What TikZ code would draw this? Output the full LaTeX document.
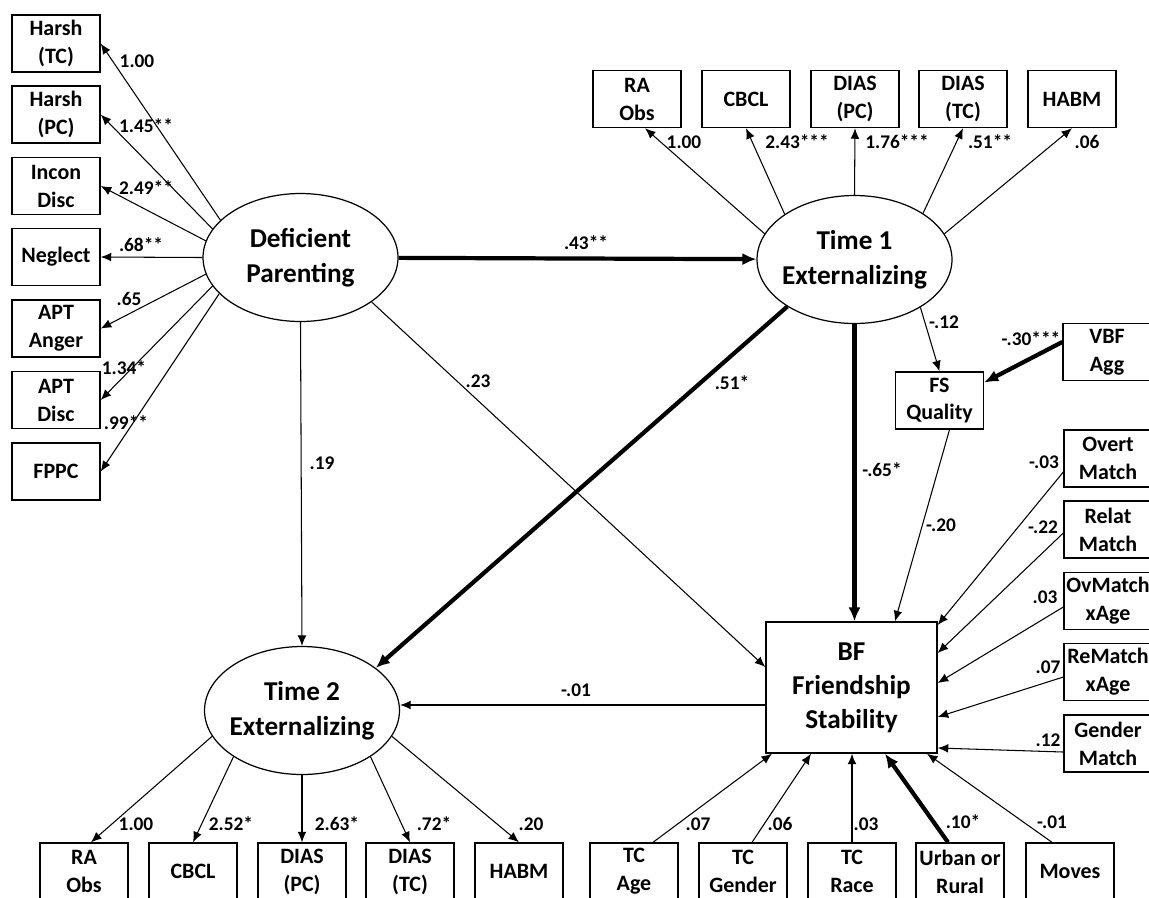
\documentclass[tikz,border=0pt]{standalone}
\usepackage{fontspec}
\setmainfont{Carlito}
\usetikzlibrary{shapes,arrows.meta,calc}

\begin{document}
\begin{tikzpicture}[x=0.02cm, y=-0.02cm,
    obs/.style={draw, line width=0.8pt, minimum width=1.76cm, minimum height=1.14cm,
      inner sep=1pt, align=center, font=\bfseries\fontsize{12.5}{15.9}\selectfont},
    lat/.style={draw, ellipse, line width=0.7pt, minimum width=3.9cm, minimum height=2.56cm,
      inner xsep=-3pt, inner ysep=0pt, align=center, font=\bfseries\fontsize{15.5}{19.8}\selectfont},
    coef/.style={inner sep=0pt, font=\bfseries\fontsize{11}{13}\selectfont},
    load/.style={-{Latex[length=6pt,width=5pt]}, line width=0.6pt},
    sig/.style={-{Latex[length=8pt,width=7pt]}, line width=2.4pt}]
      \useasboundingbox (0,0) rectangle (1149,897);

      \node[lat] (DP) at (300.5,257.5) {Deficient\\Parenting};
      \node[lat] (T1) at (854.5,259.5) {Time 1\\Externalizing};
      \node[lat] (T2) at (302,710.5) {Time 2\\Externalizing};
      \node[obs, minimum width=3.42cm, minimum height=2.62cm,
        font=\bfseries\fontsize{15.5}{19.3}\selectfont] (BF) at (851.5,687.5) {BF\\Friendship\\Stability};

      \node[obs] (HTC) at (56,43.5) {Harsh\\(TC)};
      \node[obs] (HPC) at (56,114.5) {Harsh\\(PC)};
      \node[obs] (ID) at (56,186) {Incon\\Disc};
      \node[obs] (NEG) at (56,257) {Neglect};
      \node[obs] (APA) at (56,328.5) {APT\\Anger};
      \node[obs] (APD) at (56,400) {APT\\Disc};
      \node[obs] (FPPC) at (56,471.5) {FPPC};

      \node[obs] (RA1) at (637,99) {RA\\Obs};
      \node[obs] (CB1) at (746,99) {CBCL};
      \node[obs] (DPC1) at (855,99) {DIAS\\(PC)};
      \node[obs] (DTC1) at (963,99) {DIAS\\(TC)};
      \node[obs] (HB1) at (1072,99) {HABM};

      \node[obs] (RA2) at (84,871.5) {RA\\Obs};
      \node[obs] (CB2) at (193,871.5) {CBCL};
      \node[obs] (DPC2) at (302,871.5) {DIAS\\(PC)};
      \node[obs] (DTC2) at (410,871.5) {DIAS\\(TC)};
      \node[obs] (HB2) at (519,871.5) {HABM};

      \node[obs] (FSQ) at (939.5,400.5) {FS\\Quality};
      \node[obs] (VBF) at (1107,352) {VBF\\Agg};

      \node[obs] (OM) at (1108,458.5) {Overt\\Match};
      \node[obs] (RM) at (1108,529.5) {Relat\\Match};
      \node[obs] (OMA) at (1108,601) {OvMatch\\xAge};
      \node[obs] (RMA) at (1108,672) {ReMatch\\xAge};
      \node[obs] (GM) at (1108,743.5) {Gender\\Match};

      \node[obs] (TCA) at (634,871.5) {TC\\Age};
      \node[obs] (TCG) at (743,871.5) {TC\\Gender};
      \node[obs] (TCR) at (852,871.5) {TC\\Race};
      \node[obs] (UR) at (960,871.5) {Urban or\\Rural};
      \node[obs] (MOV) at (1070,871.5) {Moves};

      \draw [load] (DP.155) to (HTC.east);
      \draw [load] (DP.162) to (HPC.east);
      \draw [load] (DP.170) to (ID.east);
      \draw [load] (DP.180) to (NEG.east);
      \draw [load] (DP.190) to (APA.east);
      \draw [load] (DP.198) to (APD.east);
      \draw [load] (DP.204) to (FPPC.east);

      \draw [sig]  (DP) to (T1);
      \draw [load] (DP.south) to (T2.north);
      \draw [load] (DP.-32) to ([yshift=0.41cm]BF.west);
      \draw [sig]  (T1.215) to (T2.30);
      \draw [sig]  (T1.south) to (T1.south |- BF.north);
      \draw [load] (T1.-36) to (FSQ.north);
      \draw [sig]  ([yshift=0.2cm]VBF.west) to ([yshift=0.36cm]FSQ.east);
      \draw [load] ([xshift=0.2cm]FSQ.south) to ([xshift=0.87cm]BF.north);
      \draw [load] ([yshift=-0.35cm]BF.west) to ([yshift=-0.35cm]BF.west -| T2.east);

      \draw [load] (T1.164) to ([xshift=0.16cm]RA1.south);
      \draw [load] (T1.147) to (CB1.south);
      \draw [load] (T1.north) to (DPC1.south);
      \draw [load] (T1.34) to (DTC1.south);
      \draw [load] (T1.16) to (HB1.south);

      \draw [load] (T2.196) to ([xshift=0.14cm]RA2.north);
      \draw [load] (T2.214) to (CB2.north);
      \draw [load] (T2.south) to (DPC2.north);
      \draw [load] (T2.326) to (DTC2.north);
      \draw [load] (T2.344) to (HB2.north);

      \draw [load] ([yshift=-0.27cm]OM.west) to ([yshift=1.25cm]BF.east);
      \draw [load] ([yshift=-0.07cm]RM.west) to ([yshift=0.69cm]BF.east);
      \draw [load] ([yshift=-0.12cm]OMA.west) to ([yshift=0.09cm]BF.east);
      \draw [load] ([yshift=-0.1cm]RMA.west) to ([yshift=-0.59cm]BF.east);
      \draw [load] ([yshift=-0.17cm]GM.west) to ([yshift=-1.21cm]BF.east);

      \draw [load] ([xshift=0.38cm]TCA.north) to ([xshift=-1.59cm]BF.south);
      \draw [load] ([xshift=0.18cm]TCG.north) to ([xshift=-0.81cm]BF.south);
      \draw [load] (TCR.north) to (TCR.north |- BF.south);
      \draw [sig]  ([xshift=-0.24cm]UR.north) to ([xshift=0.67cm]BF.south);
      \draw [load] ([xshift=-0.36cm]MOV.north) to ([xshift=1.51cm]BF.south);

      % path coefficients
      \node[coef] (wHTC) at (137,61) {1.00};
      \node[coef] (wHPC) at (146,126) {1.45**};
      \node[coef] (wID) at (146,188) {2.49**};
      \node[coef] (wNEG) at (141,245) {.68**};
      \node[coef] (wAPA) at (129,299) {.65};
      \node[coef] (wAPD) at (124,368) {1.34*};
      \node[coef] (wFPPC) at (126,423) {.99**};

      \node[coef] (wRA1) at (684,142) {1.00};
      \node[coef] (wCB1) at (797,142) {2.43***};
      \node[coef] (wDPC1) at (897,142) {1.76***};
      \node[coef] (wDTC1) at (990,142) {.51**};
      \node[coef] (wHB1) at (1087,142) {.06};

      \node[coef] (wRA2) at (136,824) {1.00};
      \node[coef] (wCB2) at (231,824) {2.52*};
      \node[coef] (wDPC2) at (337,824) {2.63*};
      \node[coef] (wDTC2) at (434,824) {.72*};
      \node[coef] (wHB2) at (531,824) {.20};

      \node[coef] (wT1) at (586,243) {.43**};
      \node[coef] (wBF) at (478,381) {.23};
      \node[coef] (wT2) at (322,463) {.19};
      \node[coef] (wT1T2) at (732,383) {.51*};
      \node[coef] (wT1BF) at (882,470) {-.65*};
      \node[coef] (wFSQ) at (944,322) {-.12};
      \node[coef] (wVBF) at (1031,339) {-.30***};
      \node[coef] (wFSBF) at (941,525) {-.20};
      \node[coef] (wBFT2) at (576,690) {-.01};

      \node[coef] (wOM) at (1044,462) {-.03};
      \node[coef] (wRM) at (1043,527) {-.22};
      \node[coef] (wOMA) at (1045,597) {.03};
      \node[coef] (wRMA) at (1048,667) {.07};
      \node[coef] (wGM) at (1048,740) {.12};

      \node[coef] (wTCA) at (698,824) {.07};
      \node[coef] (wTCG) at (780,824) {.06};
      \node[coef] (wTCR) at (866,824) {.03};
      \node[coef] (wUR) at (963,822) {.10*};
      \node[coef] (wMOV) at (1052,822) {-.01};
  \end{tikzpicture}
\end{document}
